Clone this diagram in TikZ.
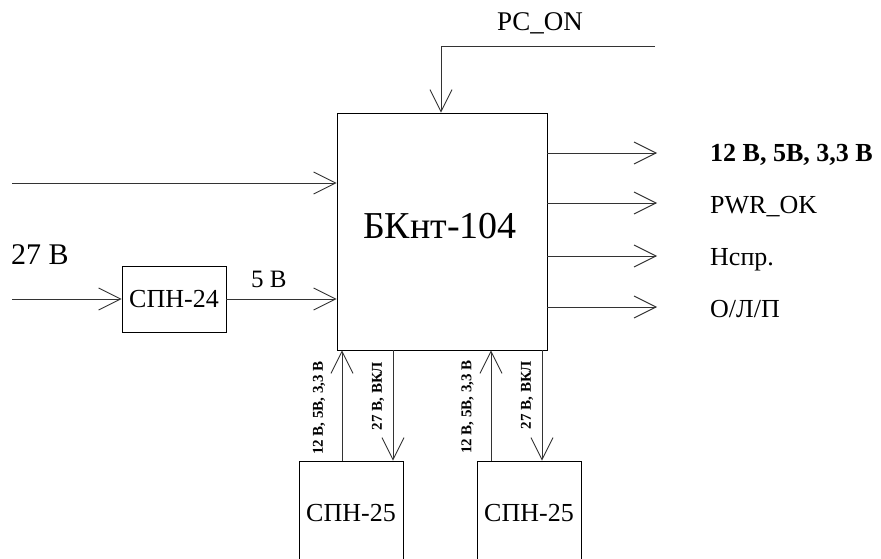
\documentclass[tikz,border=0pt]{standalone}
\usepackage{fontspec}
\setmainfont{Liberation Serif}
\usetikzlibrary{arrows.meta,positioning}
\newcommand{\fs}[1]{\fontsize{#1}{#1}\selectfont}
\tikzset{
  x=1pt,y=-1pt,
  ln/.style={line width=0.9pt,draw=black!80},
  arr/.style={ln,-{Straight Barb[length=22pt,width=22pt]}},
  blk/.style={draw=black,line width=0.9pt,inner sep=0pt},
  lab/.style={inner sep=0pt,font=\fs{26}},
  vlab/.style={inner sep=0pt,rotate=90,font=\fs{15}\bfseries}
}
\begin{document}
\begin{tikzpicture}
\useasboundingbox (0,0) rectangle (881,559);
% blocks
\node[blk,minimum width=210pt,minimum height=237pt] (main) at (442,231.5) {};
\node[inner sep=0pt,anchor=base,font=\fs{38}] (mainlab) at (440,238) {БКнт-104};
\node[blk,minimum width=104pt,minimum height=66pt,font=\fs{26}] (spn24) at (174,299) {СПН-24};
\node[blk,minimum width=104pt,minimum height=104pt,font=\fs{26}] (spnA) at (351,513) {СПН-25};
\node[blk,minimum width=104pt,minimum height=104pt,font=\fs{26}] (spnB) at (529,513) {СПН-25};
% PC_ON
\coordinate (pcR) at (655,46);
\coordinate (pcK) at (441,46);
\draw[arr] (pcR) -- (pcK) -- (pcK |- main.north);
\node[lab,font=\fs{27}] (pclab) at (540,23) {PC\_ON};
% left inputs
\coordinate (in1) at (12,183);
\draw[arr] (in1) -- (main.west |- in1);
\coordinate (in2) at (12,299);
\draw[arr] (in2) -- (spn24.west);
\node[lab,anchor=base west,font=\fs{30}] (l27) at (11,264) {27 В};
\draw[arr] (spn24.east) -- (main.west |- spn24.east);
\node[lab,anchor=base west,font=\fs{25}] (l5) at (251,287) {5 В};
% outputs
\foreach \n/\y in {1/153,2/203,3/256,4/307}{
  \coordinate (o\n) at (657,\y);
  \draw[arr] (main.east |- o\n) -- (o\n);
}
\node[lab,anchor=base west,font=\fs{26}\bfseries] (r1) at (710,162) {12 В, 5В, 3,3 В};
\node[lab,anchor=base west] (r2) at (710,213) {PWR\_OK};
\node[lab,anchor=base west] (r3) at (710,265) {Нспр.};
\node[lab,anchor=base west] (r4) at (710,317) {О/Л/П};
% bottom connectors
\coordinate (ua) at (342,0);
\coordinate (da) at (393,0);
\coordinate (ub) at (491,0);
\coordinate (db) at (542,0);
\draw[arr] (spnA.north -| ua) -- (main.south -| ua);
\draw[arr] (main.south -| da) -- (spnA.north -| da);
\draw[arr] (spnB.north -| ub) -- (main.south -| ub);
\draw[arr] (main.south -| db) -- (spnB.north -| db);
\node[vlab] (va1) at (319,408) {12 В, 5В, 3,3 В};
\node[vlab] (va2) at (378,396) {27 В, ВКЛ};
\node[vlab] (vb1) at (467.5,407) {12 В, 5В, 3,3 В};
\node[vlab] (vb2) at (527,395) {27 В, ВКЛ};
\end{tikzpicture}
\end{document}
